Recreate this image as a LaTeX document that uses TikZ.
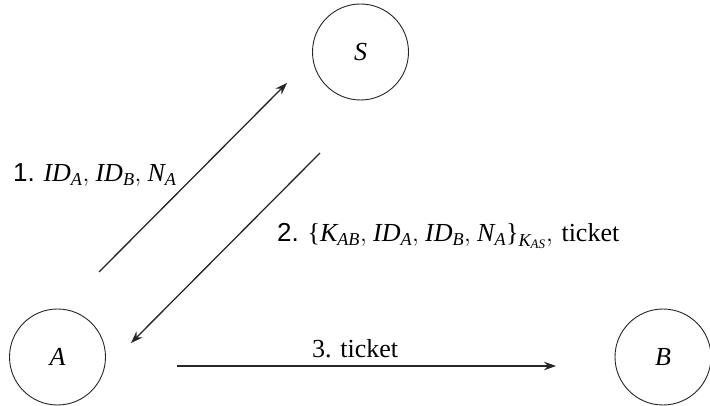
\documentclass[tikz,border=0pt]{standalone}
\usepackage{amsmath}
\usepackage{fontspec}
\setmainfont{Liberation Serif}
\newfontfamily\lsans{Liberation Sans}
\usetikzlibrary{arrows.meta}
\newcommand\mi[1]{\textit{#1}}
\newcommand\cm{,\mkern1.5mu}
\begin{document}
\begin{tikzpicture}[x=1pt,y=-1pt,
  party/.style={draw=black!85,line width=0.9pt,circle,minimum size=96pt,inner sep=0pt,font=\fontsize{26}{30}\selectfont\itshape},
  msg/.style={draw=black!85,line width=1.3pt,-{Stealth[length=12pt,width=8.5pt]}},
  lbl/.style={anchor=base west,inner sep=0pt,font=\fontsize{26}{30}\selectfont}]
\useasboundingbox (0,0) rectangle (710,406);
\node[party] (S) at (360.5,52) {S};
\node[party] (A) at (57.5,357) {A};
\node[party] (B) at (663,357) {B};
\coordinate (a1) at (99,272);
\coordinate (s1) at (287,83);
\coordinate (s2) at (320,153);
\coordinate (a2) at (131,343);
\coordinate (a3) at (177,366);
\coordinate (b3) at (556,366);
\draw[msg] (a1) -- (s1);
\draw[msg] (s2) -- (a2);
\draw[msg] (a3) -- (b3);
\node[lbl] (l1) at (13,182) {{\lsans 1.} $\mi{ID}_{\mi{A}}\cm\mi{ID}_{\mi{B}}\cm\mi{N}_{\mi{A}}$};
\node[lbl] (l2) at (277,242) {{\lsans 2.} $\text{\{}\mi{K}_{\mi{AB}}\cm\mi{ID}_{\mi{A}}\cm\mi{ID}_{\mi{B}}\cm\mi{N}_{\mi{A}}\text{\}}_{\mi{K}_{\mi{AS}}}\cm$ ticket};
\node[lbl] (l3) at (312,357) {3. ticket};
\end{tikzpicture}
\end{document}
